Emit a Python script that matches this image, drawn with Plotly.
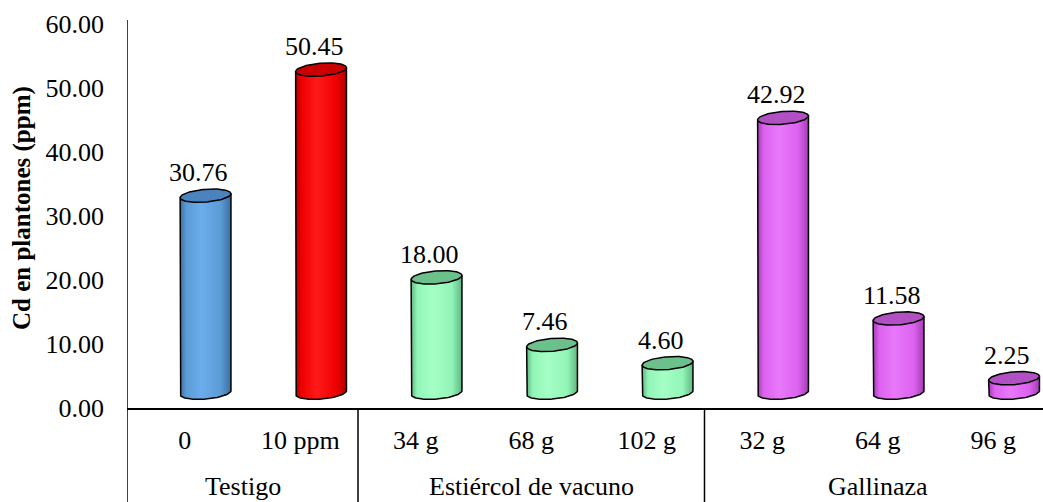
import numpy as np
import plotly.graph_objects as go

# Data
groups = ["Testigo", "Estiércol de vacuno", "Gallinaza"]
group_sizes = [2, 3, 3]
doses = ["0", "10 ppm", "34 g", "68 g", "102 g", "32 g", "64 g", "96 g"]
cd_ppm = [30.76, 50.45, 18.00, 7.46, 4.60, 42.92, 11.58, 2.25]
y_ticks = [0, 10, 20, 30, 40, 50, 60]

SERIF = "Liberation Serif, Times New Roman, serif"

# Colour per bar: (edge shade, body, highlight, top cap)
palette = {
    "blue": ("#3c6f9f", "#5b9bd5", "#6aaced", "#4a83bd"),
    "red": ("#b00000", "#f00000", "#ff1a1a", "#c80000"),
    "green": ("#5fb783", "#92f5b6", "#a4ffc6", "#6cc08c"),
    "purple": ("#a43cb5", "#dc62ef", "#e878fa", "#b050c2"),
}
bar_colors = ["blue", "red", "green", "green", "green", "purple", "purple", "purple"]

# Cylinder geometry (axis units)
DX = 0.18      # depth shift to the right
HALF_W = 0.22  # radius along x
BASE = 2.4     # floor lift from the depth offset
RY = 1.0       # vertical radius of the elliptical caps
TILT = 0.3     # slight perspective skew of the caps

t = np.linspace(0, 2 * np.pi, 121)
t_front = np.linspace(np.pi, 2 * np.pi, 61)

PLOT_W, PLOT_H = 916, 388
MARGIN_L, MARGIN_T, MARGIN_B = 127, 20, 94

fig = go.Figure()

for i, (v, cname) in enumerate(zip(cd_ppm, bar_colors)):
    edge, body, light, cap = palette[cname]
    cx = i + DX
    top = BASE + v
    # body: left side, front half of bottom ellipse, right side
    bx = [cx - HALF_W] + list(cx + HALF_W * np.cos(t_front)) + [cx + HALF_W, cx - HALF_W]
    by = ([top - TILT]
          + list(BASE + RY * np.sin(t_front) + TILT * np.cos(t_front))
          + [top + TILT, top - TILT])
    fig.add_trace(go.Scatter(
        x=bx, y=by, mode="lines", fill="toself",
        fillgradient=dict(type="horizontal",
                          colorscale=[[0, edge], [0.12, body], [0.42, light],
                                      [0.8, body], [1, edge]]),
        line=dict(color="black", width=1.5),
        hoverinfo="skip", showlegend=False,
    ))
    # top cap
    fig.add_trace(go.Scatter(
        x=cx + HALF_W * np.cos(t),
        y=top + RY * np.sin(t) + TILT * np.cos(t),
        mode="lines", fill="toself", fillcolor=cap,
        line=dict(color="black", width=1.5),
        hoverinfo="skip", showlegend=False,
    ))
    fig.add_annotation(
        x=i + 0.12, y=top + RY, text=f"{v:.2f}", showarrow=False,
        xref="x", yref="y", yanchor="bottom",
        font=dict(family=SERIF, size=26, color="black"),
    )

# Group labels and separators under the axis
PAPER_BOTTOM = -MARGIN_B / PLOT_H
start = 0
fig.add_shape(type="line", xref="x", yref="paper", x0=-0.5, x1=-0.5,
              y0=PAPER_BOTTOM, y1=1, line=dict(color="black", width=1.5))
for g, n in zip(groups, group_sizes):
    fig.add_annotation(
        x=start + (n - 1) / 2, y=-78 / PLOT_H, xref="x", yref="paper",
        text=g, showarrow=False, yanchor="middle",
        font=dict(family=SERIF, size=26, color="black"),
    )
    start += n
    if start < len(doses):
        fig.add_shape(type="line", xref="x", yref="paper",
                      x0=start - 0.5, x1=start - 0.5, y0=PAPER_BOTTOM, y1=0,
                      line=dict(color="black", width=1.5))

# Y-axis title
fig.add_annotation(
    x=(22 - MARGIN_L) / PLOT_W, y=(408 - 208) / PLOT_H,
    xref="paper", yref="paper", xanchor="center", yanchor="middle",
    text="<b>Cd en plantones (ppm)</b>", textangle=-90, showarrow=False,
    font=dict(family=SERIF, size=25, color="black"),
)

fig.update_layout(
    width=1043, height=502,
    margin=dict(l=MARGIN_L, r=0, t=MARGIN_T, b=MARGIN_B),
    paper_bgcolor="white", plot_bgcolor="white",
    showlegend=False,
    font=dict(family=SERIF, color="black"),
    xaxis=dict(
        range=[-0.5, -0.5 + PLOT_W / 115.5],
        tickmode="array", tickvals=list(range(len(doses))), ticktext=doses,
        tickfont=dict(family=SERIF, size=26), ticks="", ticklabelstandoff=8,
        showline=True, linecolor="black", linewidth=1.5,
        showgrid=False, zeroline=False, fixedrange=True,
    ),
    yaxis=dict(
        range=[0, 60.6],
        tickmode="array", tickvals=y_ticks,
        ticktext=[f"{v:.2f}" for v in y_ticks],
        tickfont=dict(family=SERIF, size=26), ticks="", ticklabelstandoff=22,
        showline=False, showgrid=False, zeroline=False, fixedrange=True,
    ),
)

fig.write_html("out.html")
